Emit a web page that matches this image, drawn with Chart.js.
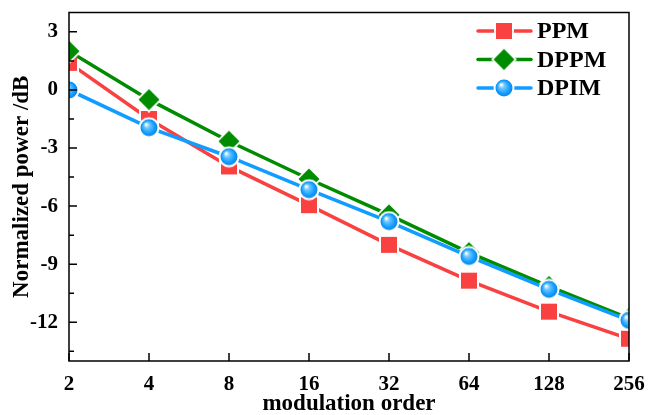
<!DOCTYPE html>
<html>
<head>
<meta charset="utf-8">
<script src="https://cdn.jsdelivr.net/npm/chart.js@4"></script>
<style>
  html, body { margin: 0; padding: 0; background: #fff; }
  #wrap { width: 649px; height: 415px; }
</style>
</head>
<body>
<div id="wrap"><canvas id="graph1"></canvas></div>
<script>
const orders    = ['2', '4', '8', '16', '32', '64', '128', '256'];
const ppm       = [1.4, -1.5, -3.95, -5.95, -8.0, -9.85, -11.45, -12.85];
const dppm      = [2.0, -0.5, -2.65, -4.6, -6.45, -8.4, -10.15, -11.8];
const dpim      = [0.0, -1.95, -3.45, -5.15, -6.8, -8.6, -10.3, -11.9];
const yMajor    = [3, 0, -3, -6, -9, -12];
const yMinor    = [1.5, -1.5, -4.5, -7.5, -10.5, -13.5];

const RED   = '#f94141';
const GREEN = '#008c00';
const BLUE  = '#119dff';
const FONT  = '"Liberation Serif", "Times New Roman", serif';

// marker images with a white rim so the line stops short of them
const mkSquare = () => {
  const c = document.createElement('canvas'); c.width = c.height = 20;
  const g = c.getContext('2d');
  g.fillStyle = '#fff'; g.fillRect(0, 0, 20, 20);
  g.fillStyle = RED; g.fillRect(2, 2, 16, 16);
  return c;
};
const mkDiamond = () => {
  const c = document.createElement('canvas'); c.width = c.height = 26;
  const g = c.getContext('2d');
  const path = r => { g.beginPath(); g.moveTo(13, 13 - r); g.lineTo(13 + r, 13); g.lineTo(13, 13 + r); g.lineTo(13 - r, 13); g.closePath(); };
  g.fillStyle = '#fff'; path(13); g.fill();
  g.fillStyle = GREEN; path(10.5); g.fill();
  return c;
};
const mkBall = () => {
  const c = document.createElement('canvas'); c.width = c.height = 22;
  const g = c.getContext('2d');
  g.fillStyle = '#fff'; g.beginPath(); g.arc(11, 11, 10.5, 0, Math.PI * 2); g.fill();
  const grad = g.createRadialGradient(8, 7.5, 0.5, 11, 11, 8.5);
  grad.addColorStop(0, '#ffffff');
  grad.addColorStop(0.3, '#6cc6ff');
  grad.addColorStop(0.75, BLUE);
  grad.addColorStop(1, '#0a86e6');
  g.fillStyle = grad; g.beginPath(); g.arc(11, 11, 8.5, 0, Math.PI * 2); g.fill();
  return c;
};

const squareImg  = mkSquare();
const diamondImg = mkDiamond();
const ballImg    = mkBall();

// frame, inward ticks, axis titles and the legend box
const decor = {
  id: 'decor',
  afterDraw(chart) {
    const { ctx, chartArea: a, scales: { x, y } } = chart;
    ctx.save();
    ctx.strokeStyle = '#000';
    ctx.lineWidth = 1.5;
    ctx.strokeRect(a.left, a.top, a.right - a.left, a.bottom - a.top);
    ctx.beginPath();
    yMajor.forEach(v => { const p = y.getPixelForValue(v); ctx.moveTo(a.left, p); ctx.lineTo(a.left + 8, p); });
    yMinor.forEach(v => { const p = y.getPixelForValue(v); ctx.moveTo(a.left, p); ctx.lineTo(a.left + 5, p); });
    orders.forEach((o, i) => { const p = x.getPixelForValue(i); ctx.moveTo(p, a.bottom); ctx.lineTo(p, a.bottom - 8); });
    ctx.stroke();

    ctx.fillStyle = '#000';
    ctx.font = 'bold 23px ' + FONT;
    ctx.textAlign = 'center';
    ctx.textBaseline = 'middle';
    ctx.fillText('modulation order', (a.left + a.right) / 2, 404);
    ctx.save();
    ctx.translate(22, (a.top + a.bottom) / 2);
    ctx.rotate(-Math.PI / 2);
    ctx.fillText('Normalized power /dB', 0, 0);
    ctx.restore();

    // legend
    const rows = [[RED, squareImg, 'PPM'], [GREEN, diamondImg, 'DPPM'], [BLUE, ballImg, 'DPIM']];
    ctx.textAlign = 'left';
    ctx.font = 'bold 24px ' + FONT;
    rows.forEach(([col, img, txt], i) => {
      const ly = 31 + i * 28.5;
      ctx.strokeStyle = col; ctx.lineWidth = 3.5; ctx.lineCap = 'round';
      ctx.beginPath(); ctx.moveTo(478, ly); ctx.lineTo(531, ly); ctx.stroke();
      ctx.drawImage(img, 504 - img.width / 2, ly - img.height / 2);
      ctx.fillStyle = '#000';
      ctx.fillText(txt, 537, ly + 1);
    });
    ctx.restore();
  }
};

const line = (label, data, color, img, order) => ({
  label, data, order,
  borderColor: color,
  backgroundColor: color,
  borderWidth: 3.5,
  pointStyle: img,
  pointRadius: 9,
  tension: 0,
  clip: 0
});

new Chart(document.getElementById('graph1'), {
  type: 'line',
  data: {
    labels: orders,
    datasets: [
      line('PPM', ppm, RED, squareImg, 2),
      line('DPPM', dppm, GREEN, diamondImg, 1),
      line('DPIM', dpim, BLUE, ballImg, 0)
    ]
  },
  options: {
    responsive: true,
    maintainAspectRatio: false,
    animation: false,
    layout: { padding: { top: 10, right: 20, left: 0, bottom: 0 } },
    plugins: { legend: { display: false }, tooltip: { enabled: false } },
    scales: {
      x: {
        offset: false,
        grid: { display: false, drawTicks: false },
        border: { display: false },
        ticks: { color: '#000', font: { family: FONT, size: 21, weight: 'bold' }, padding: 11, maxRotation: 0, autoSkip: false },
        afterFit(s) { s.height = 54; s.paddingLeft = 0; s.paddingRight = 0; }
      },
      y: {
        min: -14,
        max: 4,
        afterBuildTicks(s) { s.ticks = yMajor.map(v => ({ value: v })); },
        grid: { display: false, drawTicks: false },
        border: { display: false },
        ticks: { color: '#000', font: { family: FONT, size: 21, weight: 'bold' }, padding: 11 },
        afterFit(s) { s.width = 69; s.paddingTop = 0; s.paddingBottom = 0; }
      }
    }
  },
  plugins: [decor]
});
</script>
</body>
</html>
